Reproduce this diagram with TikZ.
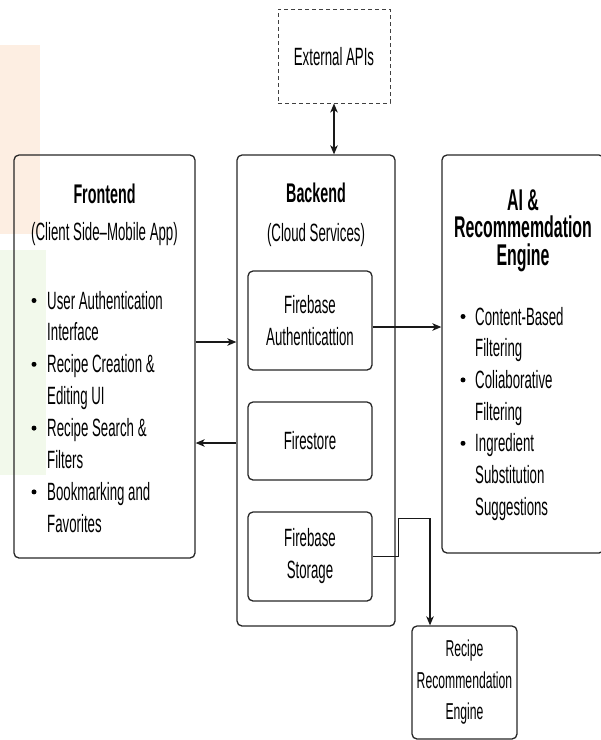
\documentclass[tikz,border=0pt]{standalone}
\usepackage{fontspec}
\setmainfont[FakeStretch=0.53]{Liberation Sans}
\usepackage{xcolor}
\usetikzlibrary{arrows.meta}
\definecolor{tintorange}{RGB}{253,238,226}
\definecolor{tintgreen}{RGB}{242,249,235}

\begin{document}
\begin{tikzpicture}[x=1pt,y=-1pt,
    box/.style={draw=black!85, line width=1.3pt, rounded corners=5pt, inner sep=0pt},
    dashbox/.style={draw=black!75, line width=1pt, dash pattern=on 4pt off 3pt, inner sep=0pt},
    txt/.style={font=\fontsize{25}{32}\selectfont, inner sep=0pt, align=center},
    head/.style={font=\bfseries\fontsize{27}{30}\selectfont, inner sep=0pt, anchor=base},
    aihead/.style={font=\bfseries\fontsize{30}{28}\selectfont, inner sep=0pt, anchor=base},
    sub/.style={font=\fontsize{25}{32}\selectfont, inner sep=0pt, anchor=base},
    item/.style={font=\fontsize{25}{32}\selectfont, inner sep=0pt, anchor=base west},
    tip/.style={arrows={-Stealth[length=9pt,width=7.5pt,inset=2.5pt]}},
    conn/.style={line width=1.3pt, draw=black!90, tip}]
    \useasboundingbox (0,0) rectangle (601,740);
    \clip (0,0) rectangle (601,740);
    % faint background tints
    \fill[tintorange] (0,45) rectangle (40,234);
    \fill[tintgreen] (0,250) rectangle (46,475);

    % boxes
    \node[dashbox, minimum width=112pt, minimum height=94pt] (ext) at (334,56) {};
    \node[box, minimum width=181pt, minimum height=403pt] (front) at (104.5,356.5) {};
    \node[box, minimum width=158pt, minimum height=471pt] (back) at (316,390.5) {};
    \node[box, minimum width=162pt, minimum height=398pt] (ai) at (523,354) {};
    \node[box, minimum width=124pt, minimum height=99pt, txt] (auth) at (310,320.5)
      {Firebase\\Authenticattion};
    \node[box, minimum width=124pt, minimum height=78pt, txt] (store) at (310,441) {Firestore};
    \node[box, minimum width=124pt, minimum height=89pt, txt] (stor) at (310,556.5)
      {Firebase\\Storage};
    \node[box, minimum width=105pt, minimum height=113pt, txt,
      font=\fontsize{23}{31.5}\selectfont] (rec) at (464.5,682.5)
      {Recipe\\Recommendation\\Engine};
    \node[txt] (extlbl) at (334,57) {External APIs};

    % frontend text
    \node[head] (fhead) at (104.5,203) {Frontend};
    \node[sub] (fsub) at (104.5,240) {(Client Side–Mobile App)};
    \foreach \t [count=\i from 0] in {User Authentication, Interface,
        Recipe Creation \&, Editing UI, Recipe Search \&, Filters,
        Bookmarking and, Favorites}
      \node[item] (fe\i) at (47,309+31.9*\i) {\t};
    \foreach \i in {0,2,4,6}
      \fill (34,300.5+31.9*\i) circle (2.5pt);

    % backend text
    \node[head] (bhead) at (316,202) {Backend};
    \node[sub] (bsub) at (316,241) {(Cloud Services)};

    % AI text
    \foreach \t [count=\i from 0] in {AI \&, Recommemdation, Engine}
      \node[aihead] (ah\i) at (523,210+27.5*\i) {\t};
    \foreach \t [count=\i from 0] in {Content-Based, Filtering,
        Coliaborative, Filtering, Ingredient, Substitution, Suggestions}
      \node[item] (ae\i) at (475,325+31.7*\i) {\t};
    \foreach \i in {0,2,4}
      \fill (463,316.5+31.7*\i) circle (2.5pt);

    % connectors
    \draw[conn, arrows={Stealth[length=9pt,width=7.5pt,inset=2.5pt]-Stealth[length=9pt,width=7.5pt,inset=2.5pt]}]
      (ext.south) -- (ext.south |- back.north);
    \coordinate (fo) at ([yshift=14.5pt]front.east);
    \draw[conn] (fo) -- (fo -| back.west);
    \coordinate (bi) at ([yshift=-52.5pt]back.west);
    \draw[conn] (bi) -- (bi -| front.east);
    \coordinate (ao) at ([yshift=-6.5pt]auth.east);
    \draw[conn] (ao) -- (ao -| ai.west);
    \coordinate (rt) at ([xshift=-34.5pt]rec.north);
    \draw[conn] (stor.east) -- ++(26,0) -- ++(0,-38) -| (rt);
\end{tikzpicture}
\end{document}
